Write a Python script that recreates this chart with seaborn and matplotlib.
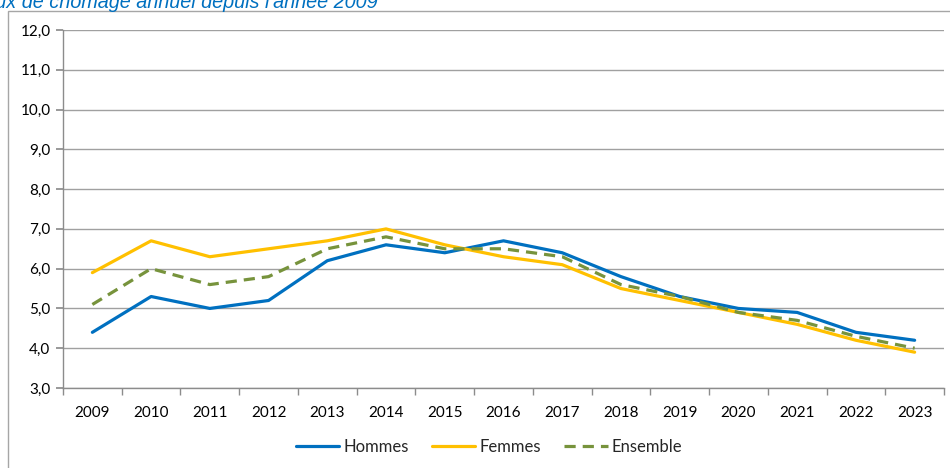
import numpy as np
import pandas as pd
import seaborn as sns
import matplotlib.pyplot as plt
from matplotlib.ticker import FuncFormatter, MultipleLocator
from matplotlib.patches import Rectangle

# données
annees = [str(a) for a in range(2009, 2024)]
hommes = [4.4, 5.3, 5.0, 5.2, 6.2, 6.6, 6.4, 6.7, 6.4, 5.8, 5.3, 5.0, 4.9, 4.4, 4.2]
femmes = [5.9, 6.7, 6.3, 6.5, 6.7, 7.0, 6.6, 6.3, 6.1, 5.5, 5.2, 4.9, 4.6, 4.2, 3.9]
ensemble = [5.1, 6.0, 5.6, 5.8, 6.5, 6.8, 6.5, 6.5, 6.3, 5.6, 5.3, 4.9, 4.7, 4.3, 4.0]

series = ['Hommes', 'Femmes', 'Ensemble']
couleurs = {'Hommes': '#0070C0', 'Femmes': '#FFC000', 'Ensemble': '#77933C'}

df = pd.DataFrame({
    'pos': list(range(len(annees))) * 3,
    'taux': hommes + femmes + ensemble,
    'serie': [s for s in series for _ in annees],
})

sns.set_theme(style='white')
plt.rcParams['font.family'] = ['Lato', 'DejaVu Sans']

fig = plt.figure(figsize=(9.5, 4.68), dpi=100)
ax = fig.add_axes([63 / 950, 80 / 468, 881 / 950, 358 / 468])

# cadre du graphique
fig.patches.append(Rectangle((8 / 950, -0.05), 1.0, 457 / 468 + 0.05,
                             transform=fig.transFigure, fill=False,
                             edgecolor='#a6a6a6', linewidth=1.0, zorder=0))

sns.lineplot(data=df, x='pos', y='taux', hue='serie', style='serie',
             palette=couleurs, dashes={'Hommes': '', 'Femmes': '', 'Ensemble': (3.5, 2.2)},
             linewidth=2.3, ax=ax, legend=False)

ax.set_xlim(-0.5, len(annees) - 0.5)
ax.set_ylim(3, 12)
ax.yaxis.set_major_locator(MultipleLocator(1))
ax.yaxis.set_major_formatter(FuncFormatter(lambda v, p: f'{v:.1f}'.replace('.', ',')))
ax.set_xticks(range(len(annees)))
ax.set_xticklabels(annees)
ax.set_xticks(np.arange(-0.5, len(annees), 1), minor=True)
ax.grid(axis='y', color='#a0a0a0', linewidth=1.0)
ax.grid(axis='x', visible=False)
ax.set_xlabel('')
ax.set_ylabel('')

for s in ['top', 'right']:
    ax.spines[s].set_visible(False)
for s in ['left', 'bottom']:
    ax.spines[s].set_color('#8c8c8c')
    ax.spines[s].set_linewidth(1.0)

ax.tick_params(axis='y', which='major', length=5, color='#8c8c8c', labelsize=11,
               labelcolor='black', pad=4, left=True)
ax.tick_params(axis='x', which='major', length=0, labelsize=11, labelcolor='black', pad=13)
ax.tick_params(axis='x', which='minor', length=5, color='#8c8c8c', bottom=True)

# légende
handles = [plt.Line2D([], [], color=couleurs['Hommes'], lw=2.3),
           plt.Line2D([], [], color=couleurs['Femmes'], lw=2.3),
           plt.Line2D([], [], color=couleurs['Ensemble'], lw=2.3, dashes=(3.5, 2.2))]
fig.legend(handles, series, loc='center', bbox_to_anchor=(489 / 950, 1 - 447 / 468),
           ncol=3, frameon=False, fontsize=12, handlelength=2.6, handletextpad=0.25,
           columnspacing=1.4)

# titre (coupé en haut à gauche comme sur l'original)
fig.text(-26 / 950, 1 - 8 / 468, "Taux de chômage annuel depuis l'année 2009",
         color='#0070C0', style='italic', fontsize=14.3, va='baseline', ha='left',
         family=['Liberation Sans', 'DejaVu Sans'])

fig.savefig('out.png', dpi=100)
